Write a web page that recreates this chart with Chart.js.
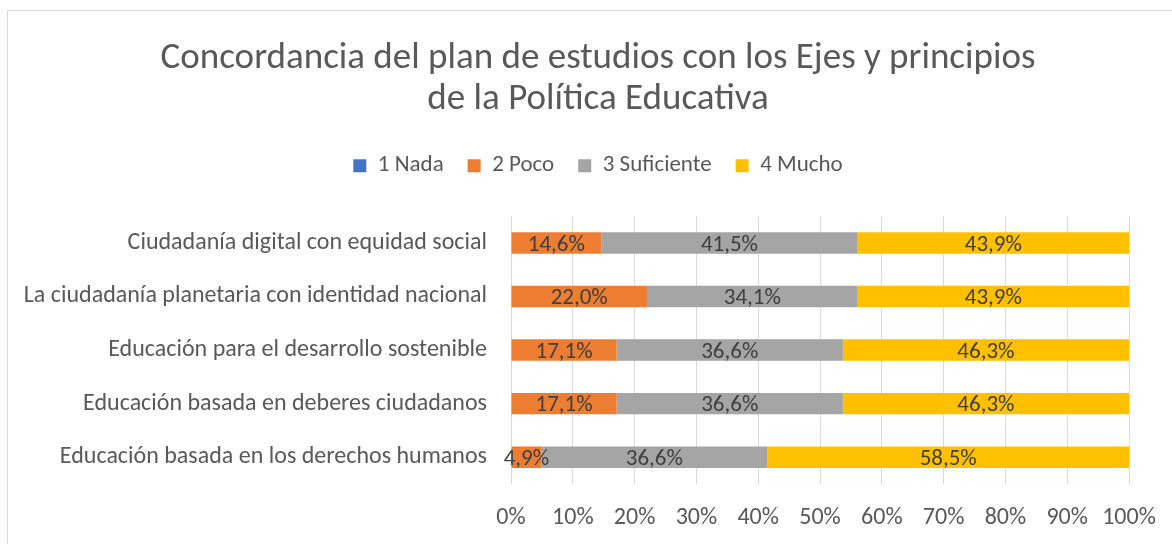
<!DOCTYPE html>
<html lang="es">
<head>
<meta charset="UTF-8">
<title>Concordancia del plan de estudios</title>
<script src="https://cdn.jsdelivr.net/npm/chart.js"></script>
<style>
  html, body { margin: 0; padding: 0; background: #fff; overflow: hidden; }
  #frame { position: absolute; left: 7px; top: 10px; width: 1300px; height: 700px; border: 1px solid #d9d9d9; }
  /* the original chart is wider than the window: its right part is cut off */
  #wrap { position: absolute; left: 0; top: 0; width: 1220px; height: 544px; }
</style>
</head>
<body>
<div id="frame"></div>
<div id="wrap"><canvas id="chart"></canvas></div>
<script>
const categories = [
  'Ciudadanía digital con equidad social',
  'La ciudadanía planetaria con identidad nacional',
  'Educación para el desarrollo sostenible',
  'Educación basada en deberes ciudadanos',
  'Educación basada en los derechos humanos'
];
const seriesNames = ['1 Nada', '2 Poco', '3 Suficiente', '4 Mucho'];
const nada = [0, 0, 0, 0, 0];
const poco = [14.6, 22.0, 17.1, 17.1, 4.9];
const suficiente = [41.5, 34.1, 36.6, 36.6, 36.6];
const mucho = [43.9, 43.9, 46.3, 46.3, 58.5];
const xTicks = [0, 10, 20, 30, 40, 50, 60, 70, 80, 90, 100];

const colors = ['#4472C4', '#ED7D31', '#A5A5A5', '#FFC000'];
const FONT = 'Calibri, Carlito, Lato, sans-serif';
const textGrey = '#595959';

// percentages like Excel with comma decimals
const fmt = v => v.toFixed(1).replace('.', ',') + '%';

// draw the value labels in the middle of each segment
const barLabels = {
  id: 'barLabels',
  afterDatasetsDraw(chart) {
    const ctx = chart.ctx;
    ctx.save();
    ctx.font = '23px ' + FONT;
    ctx.fillStyle = '#404040';
    ctx.textAlign = 'center';
    ctx.textBaseline = 'middle';
    chart.data.datasets.forEach((ds, i) => {
      const meta = chart.getDatasetMeta(i);
      meta.data.forEach((bar, j) => {
        const v = ds.data[j];
        if (!v) return;
        const p = bar.getProps(['x', 'y', 'base'], true);
        ctx.fillText(fmt(v), (p.x + p.base) / 2, p.y + 2);
      });
    });
    ctx.restore();
  }
};

// extra room under the legend, like the gap in the original
const legendGap = {
  id: 'legendGap',
  afterInit(chart) {
    const lg = chart.legend;
    if (!lg) return;
    const fit = lg.fit.bind(lg);
    lg.fit = function () { fit(); this.height += 29; };
  }
};

const data = {
  labels: categories,
  datasets: [nada, poco, suficiente, mucho].map((d, i) => ({
    label: seriesNames[i],
    data: d,
    xAxisID: 'x',
    yAxisID: 'y',
    backgroundColor: colors[i],
    borderWidth: 0,
    categoryPercentage: 1,
    barPercentage: 0.4
  }))
};

new Chart(document.getElementById('chart'), {
  type: 'bar',
  data: data,
  plugins: [barLabels, legendGap],
  options: {
    indexAxis: 'y',
    responsive: true,
    maintainAspectRatio: false,
    animation: false,
    layout: { padding: { left: 0, right: 24, top: 0, bottom: 0 } },
    plugins: {
      title: {
        display: true,
        text: ['Concordancia del plan de estudios con los Ejes y principios', 'de la Política Educativa'],
        color: textGrey,
        font: { family: FONT, size: 37, weight: 'normal', lineHeight: 1.11 },
        padding: { top: 38, bottom: 10 }
      },
      legend: {
        display: true,
        position: 'top',
        labels: {
          color: textGrey,
          font: { family: FONT, size: 23 },
          boxWidth: 13,
          boxHeight: 13,
          padding: 24
        }
      },
      tooltip: { enabled: false }
    },
    scales: {
      x: {
        stacked: true,
        min: 0,
        max: 100,
        afterBuildTicks: s => { s.ticks = xTicks.map(v => ({ value: v })); },
        afterFit: s => { s.height = 60; },
        grid: { color: '#d9d9d9', lineWidth: 1, drawTicks: false },
        border: { display: false },
        ticks: {
          color: textGrey,
          font: { family: FONT, size: 24 },
          padding: 20,
          maxRotation: 0,
          callback: v => v + '%'
        }
      },
      y: {
        stacked: true,
        afterFit: s => { s.width = 511; },
        grid: { display: false, drawTicks: false },
        border: { display: false },
        ticks: {
          color: textGrey,
          font: { family: FONT, size: 24 },
          padding: 24
        }
      },
      // empty space on the right of the plot, as in the original
      yRight: {
        type: 'linear',
        axis: 'y',
        position: 'right',
        afterFit: s => { s.width = 67; },
        grid: { display: false, drawTicks: false },
        border: { display: false },
        ticks: { display: false }
      }
    }
  }
});
</script>
</body>
</html>
